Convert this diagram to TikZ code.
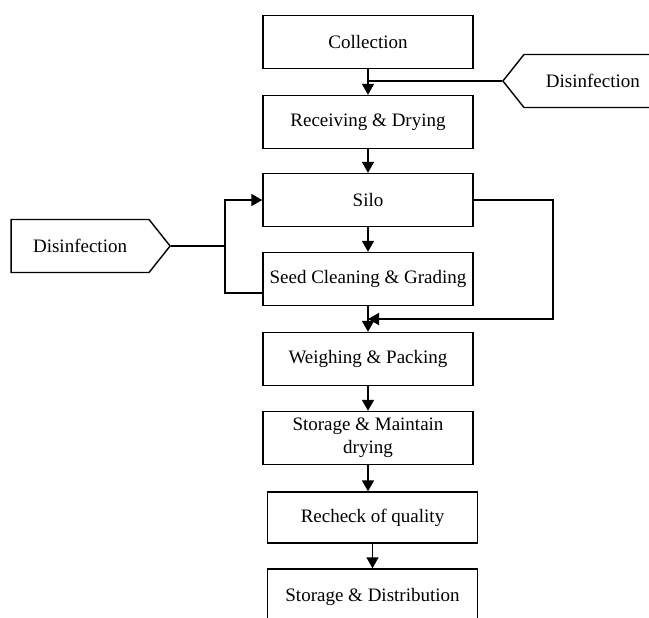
\documentclass[tikz,border=0pt]{standalone}
\usepackage{fontspec}
\setmainfont{Liberation Serif}
\usetikzlibrary{arrows.meta,shapes.symbols}

\begin{document}
\begin{tikzpicture}[x=0.5pt, y=-0.5pt, line width=0.7pt,
  stepbox/.style={draw, rectangle, minimum width=105pt, minimum height=26.5pt,
    inner sep=1pt, align=center, font=\fontsize{9.5}{11.5}\selectfont},
  disbox/.style={draw, signal, signal pointer angle=103, minimum width=79.5pt,
    minimum height=26.5pt, inner sep=1pt, font=\fontsize{9.5}{11.5}\selectfont},
  arr/.style={-{Triangle[length=5.5pt,width=6pt]}}]
\useasboundingbox (0,0) rectangle (649,617);
\clip (0,0) rectangle (649,617);
%Main line
\node[stepbox] (coll) at (368, 42) {Collection};
\node[stepbox] (recv) at (368, 122) {Receiving \& Drying};
\node[stepbox] (silo) at (368, 200) {Silo};
\node[stepbox] (clean) at (368, 279) {Seed Cleaning \& Grading};
\node[stepbox] (weigh) at (368, 359) {Weighing \& Packing};
\node[stepbox] (store) at (368, 438) {Storage \& Maintain\\drying};
\node[stepbox, minimum height=25.5pt] (check) at (372.5, 517.5) {Recheck of quality};
\node[stepbox, minimum height=28pt] (dist) at (372.5, 597) {Storage \& Distribution};
%Disinfection
\node[disbox, signal to=west, anchor=west] (disr) at (502, 81) {Disinfection};
\node[disbox, signal to=east, anchor=east] (disl) at (171, 246) {Disinfection};
\coordinate (lp) at (225, 293);
\coordinate (rp) at (553, 319);
%Connectors
\draw[arr] (coll) -- (recv);
\draw (disr.west) -- (coll.south |- disr.west);
\draw[arr] (recv) -- (silo);
\draw[arr] (silo) -- (clean);
\draw[arr] (clean) -- (weigh);
\draw[arr] (weigh) -- (store);
\draw[arr] (store.south) -- (store.south |- check.north);
\draw[arr] (check) -- (dist);
\draw (disl.east) -- (lp |- disl.east);
\draw[arr] (clean.west |- lp) -- (lp) -- (lp |- silo.west) -- (silo.west);
\draw[arr] (silo.east) -| (rp) -- (clean.south |- rp);
\end{tikzpicture}
\end{document}
